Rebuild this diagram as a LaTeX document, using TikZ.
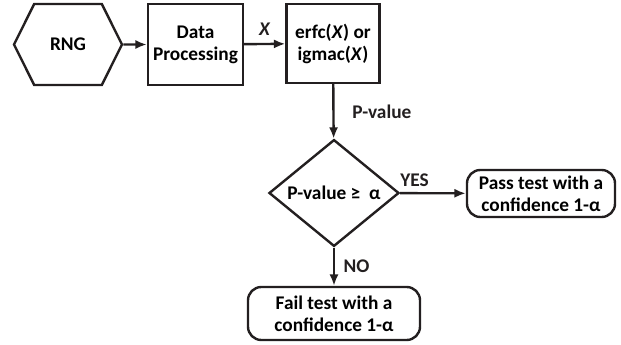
\documentclass[tikz,border=0pt]{standalone}
\usepackage{fontspec}
\setmainfont{Carlito}
\usepackage{tikz}
\usetikzlibrary{positioning, shapes.geometric, shapes.symbols, arrows.meta}
\definecolor{fcInk}{HTML}{231F20}
\tikzset{
  procbox/.style={
    rectangle, draw=fcInk, line width=1.8pt,
    inner sep=2pt, align=center,
    font=\fontsize{14.5}{16.5}\selectfont\bfseries
  },
  hexbox/.style={
    signal, signal to=west and east, signal pointer angle=127,
    draw=fcInk, line width=1.8pt,
    inner sep=2pt, align=center,
    font=\fontsize{14.5}{16.5}\selectfont\bfseries
  },
  decision/.style={
    diamond, draw=fcInk, line width=1.8pt,
    inner sep=0pt, align=center,
    font=\fontsize{14.5}{16.5}\selectfont\bfseries
  },
  outcome/.style={
    rectangle, rounded corners=10pt,
    draw=fcInk, line width=1.8pt,
    inner sep=2pt, align=center,
    font=\fontsize{14.5}{16.5}\selectfont\bfseries
  },
  arrow/.style={
    -{Latex[length=3mm, width=2.4mm]},
    fcInk, line width=1.8pt
  },
  edgelabel/.style={font=\fontsize{14.5}{16.5}\selectfont\bfseries, text=fcInk}
}

\begin{document}
\begin{tikzpicture}[x=0.75pt, y=-0.75pt]
        \useasboundingbox (0,0) rectangle (621,345);
        \node[hexbox, minimum width=108*0.75pt, minimum height=81*0.75pt] (rng) at (68,44.5) {RNG};
        \node[procbox, minimum width=95*0.75pt, minimum height=81*0.75pt] (proc) at (195.5,44.5) {Data\\Processing};
        \node[procbox, minimum width=93*0.75pt, minimum height=79*0.75pt] (test) at (333,43.5) {erfc(\textit{X}) or\\igmac(\textit{X})};
        \node[decision, minimum width=130*0.75pt, minimum height=94*0.75pt] (dec) at (334,193) {P-value ≥~~α};
        \node[outcome, minimum width=148*0.75pt, minimum height=47*0.75pt] (pass) at (541,193.5) {Pass test with a\\confidence 1-α};
        \node[outcome, minimum width=172*0.75pt, minimum height=53*0.75pt] (fail) at (334,313.5) {Fail test with a\\confidence 1-α};

        \draw[arrow] (rng) -- (proc);
        \draw[arrow] (proc) -- node[edgelabel, above=2pt] {\textit{X}} (test);
        \draw[arrow] (test) -- node[edgelabel, right=10pt] {P-value} (dec);
        \draw[arrow] (dec) -- node[edgelabel, pos=0.22, above=1pt] {YES} (pass);
        \draw[arrow] (dec) -- node[edgelabel, right=3pt] {NO} (fail);
      \end{tikzpicture}
\end{document}
